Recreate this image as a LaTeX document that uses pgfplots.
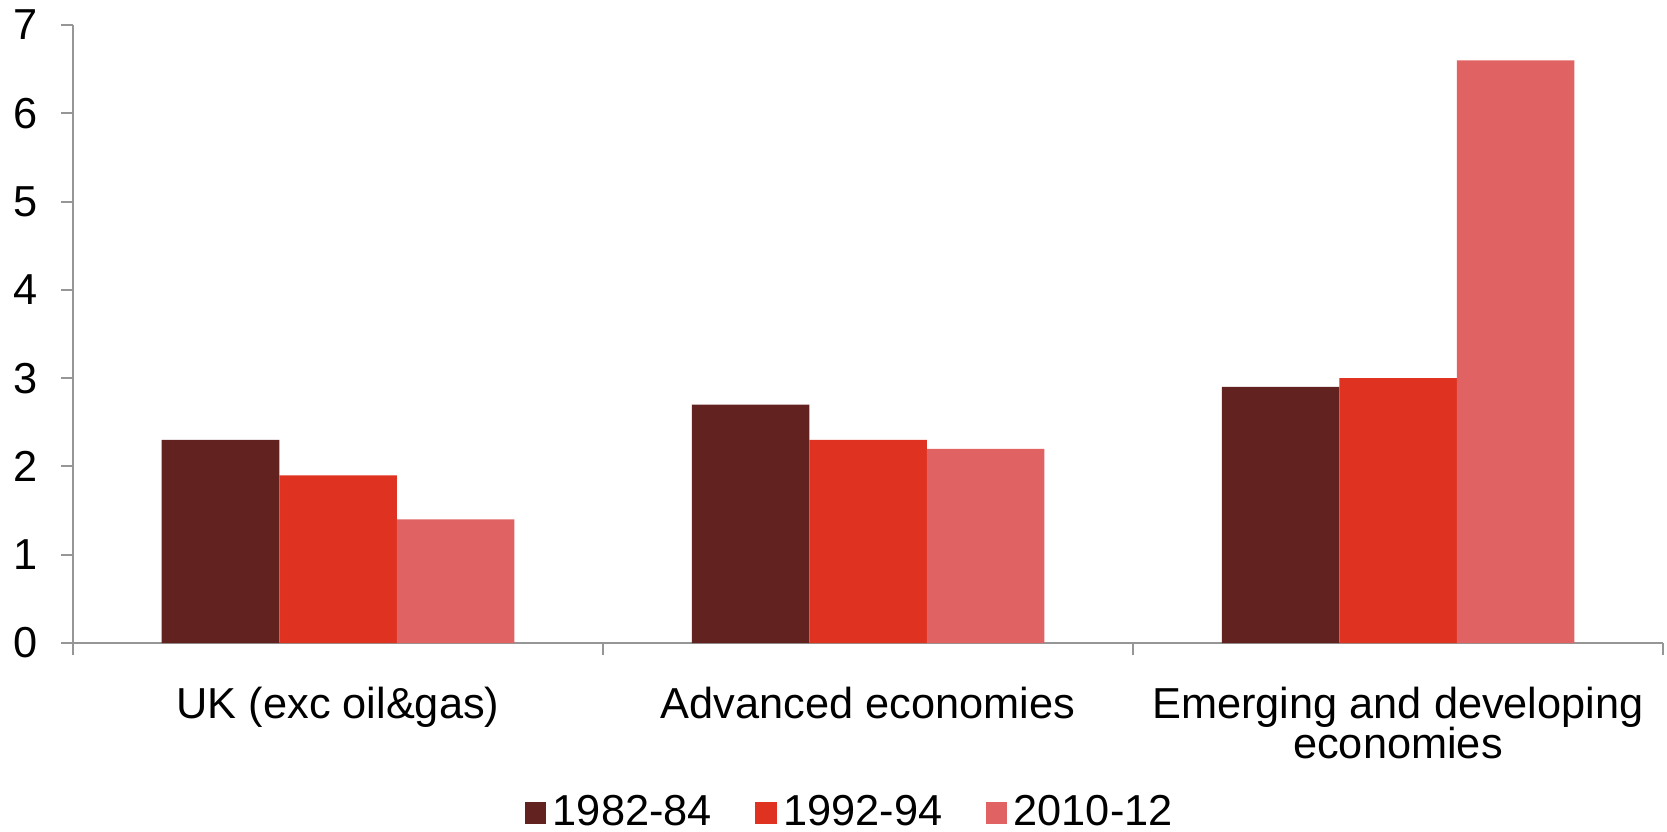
\documentclass[border=0pt]{standalone}
\usepackage{fontspec}
\setmainfont{Liberation Sans}
\usepackage{pgfplots}
\pgfplotsset{compat=1.18}
\definecolor{cA}{RGB}{98,34,32}
\definecolor{cB}{RGB}{224,50,32}
\definecolor{cC}{RGB}{224,98,98}
\definecolor{axgray}{RGB}{150,150,150}
\begin{document}
\begin{tikzpicture}
\begin{axis}[
 scale only axis, width=477pt, height=185.4pt,
 xmin=-0.5, xmax=2.5, ymin=0, ymax=7,
 axis lines=left, axis line style={-, draw=axgray, line width=0.6pt},
 ytick={0,1,2,3,4,5,6,7},
 xtick={-0.5,0.5,1.5,2.5}, xticklabels={},
 extra x ticks={0,1,2},
 extra x tick labels={UK (exc oil\&gas), Advanced economies, {Emerging and developing\\economies}},
 extra x tick style={tick style={draw=none}},
 tick align=outside, major tick length=3.6pt,
 tick style={draw=axgray, line width=0.6pt},
 tick label style={font=\fontsize{13}{12.2}\selectfont},
 xticklabel style={align=center, yshift=-6pt, font=\fontsize{13}{12.2}\selectfont},
 yticklabel style={xshift=-3.6pt},
 /pgf/number format/assume math mode=true,
 ybar, bar width=0.2217,
 legend style={at={(0.49,-0.275)}, anchor=center, draw=none, legend columns=-1,
   font=\fontsize{13}{13.2}\selectfont,
   /tikz/every even column/.append style={column sep=11pt}},
 legend image code/.code={\fill[#1] (0pt,-3.2pt) rectangle (6.4pt,3.2pt);},
]
\addplot[fill=cA, draw=none, bar shift=-0.2217] coordinates {(0,2.3) (1,2.7) (2,2.9)};
\addplot[fill=cB, draw=none, bar shift=0] coordinates {(0,1.9) (1,2.3) (2,3.0)};
\addplot[fill=cC, draw=none, bar shift=0.2217] coordinates {(0,1.4) (1,2.2) (2,6.6)};
\legend{1982-84, 1992-94, 2010-12}
\end{axis}
\pgfresetboundingbox
\path[use as bounding box] (-21.9pt,-56.4pt) rectangle (478.2pt,192.9pt);
\end{tikzpicture}
\end{document}
